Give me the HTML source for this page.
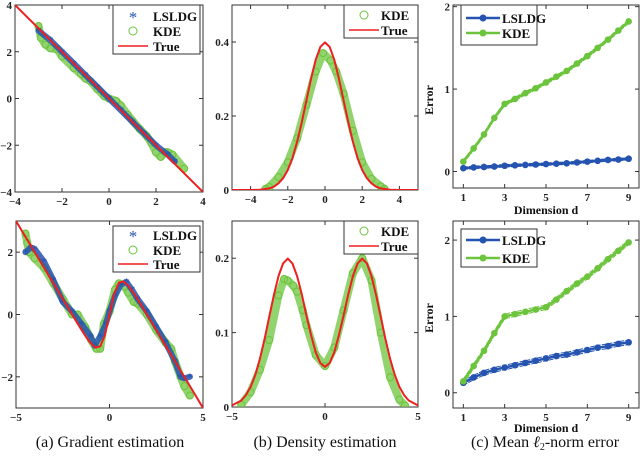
<!DOCTYPE html>
<html><head><meta charset="utf-8"><style>
html,body{margin:0;padding:0;background:#fff;}
svg{display:block;}
text{font-family:"Liberation Serif",serif;}
.tk{font-size:11px;font-weight:bold;fill:#222;}
.cap{font-size:16px;fill:#111;}
</style></head><body>
<svg id="fig" width="640" height="465" viewBox="0 0 640 465" xmlns="http://www.w3.org/2000/svg">
<text class="cap" x="110" y="447" text-anchor="middle">(a) Gradient estimation</text>
<text class="cap" x="325" y="447" text-anchor="middle">(b) Density estimation</text>
<text class="cap" x="545" y="447" text-anchor="middle">(c) Mean <tspan font-style="italic">ℓ</tspan><tspan font-size="10" dy="3">2</tspan><tspan dy="-3">-norm error</tspan></text>
</svg>
<script>
// ---------- data ----------
const tlTrueX=[-4,4];
const tlTrueY=[4,-4];
const tlLsldgX=[-3,-2.5,-2,-1.5,-1,-0.5,0,0.5,1,1.5,2,2.5,2.8];
const tlLsldgY=[2.9,2.5,2.0,1.5,1.0,0.5,0,-0.5,-1.0,-1.5,-2.0,-2.4,-2.7];
const tlKdeX=[-3,-2.9,-2.7,-2.5,-2.2,-2,-1.5,-1.2,-1,-0.8,-0.5,-0.2,0,0.3,0.5,0.8,1,1.3,1.6,1.8,2,2.2,2.4,2.5,2.7,3.2];
const tlKdeY=[3.1,2.6,2.3,2.15,2.1,1.8,1.3,1.05,0.85,0.75,0.4,0.1,0,-0.1,-0.3,-0.7,-0.95,-1.3,-1.6,-1.9,-2.3,-2.5,-2.3,-2.3,-2.4,-3.0];

const tmTrueX=[-5,-4,-3.5,-3,-2.75,-2.5,-2.25,-2,-1.75,-1.5,-1.25,-1,-0.75,-0.5,-0.25,0,0.25,0.5,0.75,1,1.25,1.5,1.75,2,2.25,2.5,2.75,3,3.5,4,5];
const tmTrueY=[0,0.0001,0.0009,0.0044,0.009,0.018,0.032,0.054,0.086,0.130,0.183,0.242,0.301,0.352,0.387,0.399,0.387,0.352,0.301,0.242,0.183,0.130,0.086,0.054,0.032,0.018,0.009,0.0044,0.0009,0.0001,0];
const tmKdeX=[-3.2,-3,-2.5,-2,-1.5,-1,-0.5,-0.1,0.3,0.6,1,1.5,2,2.5,3,3.2];
const tmKdeY=[0.003,0.008,0.035,0.075,0.14,0.23,0.32,0.37,0.35,0.32,0.26,0.16,0.075,0.03,0.01,0.003];

const trDims=[1,1.5,2,2.5,3,3.5,4,4.5,5,5.5,6,6.5,7,7.5,8,8.5,9];
const trLsldg=[0.04,0.05,0.055,0.06,0.07,0.075,0.08,0.085,0.09,0.095,0.10,0.11,0.12,0.13,0.14,0.145,0.155];
const trKde=[0.12,0.28,0.45,0.65,0.82,0.88,0.95,1.01,1.08,1.15,1.22,1.31,1.40,1.50,1.60,1.71,1.82];

const blTrueX=[-5,-4.5,-4,-3.5,-3,-2.5,-2,-1.75,-1.5,-1.25,-1,-0.75,-0.5,-0.25,0,0.25,0.5,0.75,1,1.25,1.5,1.75,2,2.5,3,3.5,4,4.5,5];
const blTrueY=[3,2.5,2,1.5,1,0.5,0.001,-0.246,-0.49,-0.723,-0.928,-1.06,-1.023,-0.674,0,0.674,1.023,1.06,0.928,0.723,0.49,0.246,-0.001,-0.5,-1,-1.5,-2,-2.5,-3];
const blLsldgX=[-4.5,-4.2,-4,-3.5,-3,-2.5,-2,-1.5,-1,-0.8,-0.5,-0.2,0,0.3,0.6,0.9,1.2,1.5,2,2.5,3,3.5,3.8,4,4.3];
const blLsldgY=[2.0,2.15,2.1,1.7,1.1,0.4,0.1,-0.3,-0.7,-1.0,-0.7,-0.3,0.1,0.6,0.95,1.05,0.8,0.5,0.1,-0.4,-0.9,-1.5,-2.0,-2.05,-2.0];
const blKdeX=[-4.5,-4.4,-4.3,-4,-3.5,-3,-2.5,-2,-1.7,-1.3,-1,-0.7,-0.5,-0.3,0,0.3,0.5,0.8,1,1.3,1.5,2,2.5,3,3.3,3.5,3.8,4,4.3];
const blKdeY=[2.6,2.3,2.0,1.8,1.5,1.0,0.5,0.0,0.0,-0.4,-0.8,-1.1,-1.1,-0.3,0.1,0.8,1.0,0.9,0.7,0.4,0.35,0.0,-0.5,-0.9,-1.1,-1.5,-2.0,-2.3,-2.6];

const bmTrueX=[-5,-4.5,-4.25,-4,-3.75,-3.5,-3.25,-3,-2.75,-2.5,-2.25,-2,-1.75,-1.5,-1.25,-1,-0.75,-0.5,-0.25,0,0.25,0.5,0.75,1,1.25,1.5,1.75,2,2.25,2.5,2.75,3,3.25,3.5,3.75,4,4.25,4.5,5];
const bmTrueY=[0.0022,0.0088,0.016,0.027,0.043,0.0648,0.0915,0.121,0.1505,0.176,0.193,0.1995,0.193,0.176,0.1516,0.123,0.0965,0.0735,0.059,0.054,0.059,0.0735,0.0965,0.123,0.1516,0.176,0.193,0.1995,0.193,0.176,0.1505,0.121,0.0915,0.0648,0.043,0.027,0.016,0.0088,0.0022];
const bmKdeX=[-4.5,-4,-3.5,-3,-2.5,-2.2,-2,-1.7,-1.5,-1.2,-1,-0.5,0,0.5,1,1.5,2,2.5,3,3.5,4,4.3];
const bmKdeY=[0.003,0.02,0.05,0.09,0.15,0.172,0.17,0.163,0.155,0.13,0.11,0.07,0.055,0.08,0.13,0.18,0.2,0.17,0.10,0.04,0.01,0.002];

const brDims=[1,1.5,2,2.5,3,3.5,4,4.5,5,5.5,6,6.5,7,7.5,8,8.5,9];
const brLsldg=[0.13,0.2,0.26,0.3,0.33,0.36,0.39,0.42,0.45,0.48,0.5,0.53,0.56,0.59,0.61,0.64,0.66];
const brKde=[0.15,0.35,0.55,0.78,1.0,1.03,1.06,1.09,1.12,1.22,1.33,1.43,1.52,1.63,1.75,1.86,1.97];

const tlTicksX=[-4,-2,0,2,4], tlTicksY=[-4,-2,0,2,4];
const tmTicksX=[-4,-2,0,2,4], tmTicksY=[0,0.2,0.4];
const trTicksX=[1,3,5,7,9], trTicksY=[0,1,2];
const blTicksX=[-5,0,5], blTicksY=[-2,0,2];
const bmTicksX=[-5,0,5], bmTicksY=[0,0.1,0.2];
const brTicksX=[1,3,5,7,9], brTicksY=[0,1,2];

// ---------- drawing ----------
const NS="http://www.w3.org/2000/svg";
const svg=document.getElementById('fig');
const BLUE="#2453b0", GREEN="#6cc43c", RED="#ee1f1f";
function mk(tag,attrs,parent){const e=document.createElementNS(NS,tag);for(const k in attrs)e.setAttribute(k,attrs[k]);(parent||svg).appendChild(e);return e;}
function fmt(v){const s=String(v);return s.replace('-','\u2212');}

function panel(name,box,xl,yl,tx,ty){
  const g=mk('g',{});
  
  
  const sx=v=>box.x0+(v-xl[0])/(xl[1]-xl[0])*(box.x1-box.x0);
  const sy=v=>box.y1-(v-yl[0])/(yl[1]-yl[0])*(box.y1-box.y0);
  const r=mk('rect',{x:box.x0,y:box.y0,width:box.x1-box.x0,height:box.y1-box.y0,fill:'#fff',stroke:'#333','stroke-width':1},g);
  
  
  tx.forEach(v=>{const x=sx(v);
    mk('line',{x1:x,x2:x,y1:box.y1,y2:box.y1-4,stroke:'#333'},g);
    mk('line',{x1:x,x2:x,y1:box.y0,y2:box.y0+4,stroke:'#333'},g);
    const t=mk('text',{x:x,y:box.y1+13,'text-anchor':'middle',class:'tk'},g);t.textContent=fmt(v);
    
    
  });
  ty.forEach(v=>{const y=sy(v);
    mk('line',{x1:box.x0,x2:box.x0+4,y1:y,y2:y,stroke:'#333'},g);
    mk('line',{x1:box.x1,x2:box.x1-4,y1:y,y2:y,stroke:'#333'},g);
    const t=mk('text',{x:box.x0-3,y:y+4,'text-anchor':'end',class:'tk'},g);t.textContent=fmt(v);
    
    
  });
  const clip='clip-'+name;
  const cp=mk('clipPath',{id:clip},g);mk('rect',{x:box.x0,y:box.y0,width:box.x1-box.x0,height:box.y1-box.y0},cp);
  const dg=mk('g',{'clip-path':'url(#'+clip+')'},g);
  return {g,dg,sx,sy,box};
}
function pts(p,X,Y){return X.map((x,i)=>p.sx(x).toFixed(1)+','+p.sy(Y[i]).toFixed(1)).join(' ');}
function line(p,X,Y,color,w,name,extra){
  const l=mk('polyline',Object.assign({points:pts(p,X,Y),fill:'none',stroke:color,'stroke-width':w,'stroke-linejoin':'round','stroke-linecap':'round'},extra||{}),p.dg);
  
  
  return l;
}
function circles(p,X,Y,name){
  line(p,X,Y,GREEN,8,name+'-band',{opacity:0.75});
  X.forEach((x,i)=>{const c=mk('circle',{cx:p.sx(x),cy:p.sy(Y[i]),r:3.5,fill:'none',stroke:GREEN,'stroke-width':1},p.dg);
    
    });
}
function stars(p,X,Y,name){
  line(p,X,Y,BLUE,6,name+'-band',{opacity:0.85});
  X.forEach((x,i)=>{const t=mk('text',{x:p.sx(x),y:p.sy(Y[i])+5,'text-anchor':'middle','font-size':13,fill:BLUE},p.dg);t.textContent='*';
    
    });
}
function markerLine(p,X,Y,color,name,band){
  line(p,X,Y.map(v=>v+band),color,1,name+'-upper-error',{'stroke-dasharray':'4,2'});
  line(p,X,Y.map(v=>v-band),color,1,name+'-lower-error',{'stroke-dasharray':'4,2'});
  line(p,X,Y,color,2.5,name+'-line');
  X.forEach((x,i)=>{const c=mk('circle',{cx:p.sx(x),cy:p.sy(Y[i]),r:3.3,fill:color},p.dg);
    
    });
}
function legend(name,x0,y0,x1,y1,entries){
  const g=mk('g',{});
  
  
  mk('rect',{x:x0,y:y0,width:x1-x0,height:y1-y0,fill:'#fff',stroke:'#333'},g);
  entries.forEach(e=>{
    const lx=x0+5, mx=x0+20;
    if(e.type==='line'){mk('line',{x1:lx,x2:lx+30,y1:e.y,y2:e.y,stroke:e.c,'stroke-width':1.5},g);}
    if(e.type==='star'){const t=mk('text',{x:mx,y:e.y+7,'text-anchor':'middle','font-size':17,fill:e.c},g);t.textContent='*';}
    if(e.type==='circ'){mk('circle',{cx:mx,cy:e.y,r:4,fill:'none',stroke:e.c},g);}
    if(e.type==='mline'){mk('line',{x1:lx,x2:lx+34,y1:e.y,y2:e.y,stroke:e.c,'stroke-width':2.5},g);mk('circle',{cx:lx+17,cy:e.y,r:3.5,fill:e.c},g);}
    const t=mk('text',{x:e.tx,y:e.y+5,'font-size':13,'font-weight':'bold',fill:'#111'},g);t.textContent=e.label;
    
    
  });
}
function lbl(name,x,y,txt,rot){
  const t=mk('text',{x:x,y:y,'text-anchor':'middle','font-size':12,'font-weight':'bold',fill:'#111'});
  if(rot)t.setAttribute('transform','rotate(-90 '+x+' '+y+')');
  t.textContent=txt;
  
  
}

// TL
let p=panel('gradient-top',{x0:15,x1:203,y0:5,y1:192},[-4,4],[-4,4],tlTicksX,tlTicksY);
circles(p,tlKdeX,tlKdeY,'kde-gradient-top');
stars(p,tlLsldgX,tlLsldgY,'lsldg-gradient-top');
line(p,tlTrueX,tlTrueY,RED,2,'true-gradient-top');
legend('legend-gradient-top',113,5,200,54,[{type:'star',c:BLUE,y:16,label:'LSLDG',tx:153},{type:'circ',c:GREEN,y:31,label:'KDE',tx:153},{type:'line',c:RED,y:46,label:'True',tx:153}]);
// TM
p=panel('density-top',{x0:232,x1:418,y0:5,y1:190},[-5,5],[0,0.5],tmTicksX,tmTicksY);
circles(p,tmKdeX,tmKdeY,'kde-density-top');
line(p,tmTrueX,tmTrueY,RED,2,'true-density-top');
legend('legend-density-top',344,5,418,38,[{type:'circ',c:GREEN,y:15,label:'KDE',tx:381},{type:'line',c:RED,y:30,label:'True',tx:381}]);
// TR
p=panel('error-top',{x0:453,x1:639,y0:5,y1:188},[0.5,9.5],[-0.2,2.02],trTicksX,trTicksY);
markerLine(p,trDims,trLsldg,BLUE,'lsldg-error-top',0.015);
markerLine(p,trDims,trKde,GREEN,'kde-error-top',0.02);
legend('legend-error-top',461,5,537,45,[{type:'mline',c:BLUE,y:18,label:'LSLDG',tx:502},{type:'mline',c:GREEN,y:33,label:'KDE',tx:502}]);
lbl('y-axis-title-error-top',433,100,'Error',true);
lbl('x-axis-title-dimension-top',546,214,'Dimension d',false);
// BL
p=panel('gradient-bottom',{x0:16,x1:203,y0:221,y1:408},[-5,5],[-3,3],blTicksX,blTicksY);
circles(p,blKdeX,blKdeY,'kde-gradient-bottom');
stars(p,blLsldgX,blLsldgY,'lsldg-gradient-bottom');
line(p,blTrueX,blTrueY,RED,2,'true-gradient-bottom');
legend('legend-gradient-bottom',113,226,200,272,[{type:'star',c:BLUE,y:235,label:'LSLDG',tx:153},{type:'circ',c:GREEN,y:250,label:'KDE',tx:153},{type:'line',c:RED,y:264,label:'True',tx:153}]);
// BM
p=panel('density-bottom',{x0:232,x1:418,y0:221,y1:407},[-5,5],[0,0.25],bmTicksX,bmTicksY);
circles(p,bmKdeX,bmKdeY,'kde-density-bottom');
line(p,bmTrueX,bmTrueY,RED,2,'true-density-bottom');
legend('legend-density-bottom',344,221,418,254,[{type:'circ',c:GREEN,y:231,label:'KDE',tx:381},{type:'line',c:RED,y:246,label:'True',tx:381}]);
// BR
p=panel('error-bottom',{x0:453,x1:639,y0:221,y1:408},[0.5,9.5],[-0.2,2.25],brTicksX,brTicksY);
markerLine(p,brDims,brLsldg,BLUE,'lsldg-error-bottom',0.03);
markerLine(p,brDims,brKde,GREEN,'kde-error-bottom',0.03);
legend('legend-error-bottom',461,229,537,267,[{type:'mline',c:BLUE,y:240,label:'LSLDG',tx:502},{type:'mline',c:GREEN,y:258,label:'KDE',tx:502}]);
lbl('y-axis-title-error-bottom',433,318,'Error',true);
lbl('x-axis-title-dimension-bottom',546,432,'Dimension d',false);
</script>
</body></html>
